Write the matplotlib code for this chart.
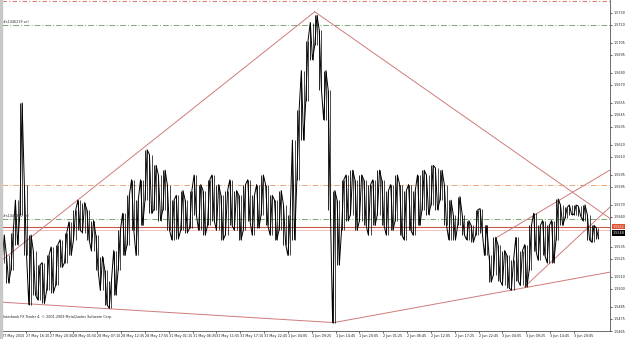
import matplotlib
matplotlib.use('Agg')
import matplotlib.pyplot as plt
import matplotlib.transforms as mtransforms
import numpy as np

# price samples, one every 12 five-minute bars, in points (price * 10000)
high_pts = [15545, 15528, 15547, 15574, 15655, 15587, 15545, 15532, 15520, 15522,
            15528, 15535, 15537, 15541, 15547, 15556, 15566, 15574, 15572, 15566,
            15557, 15545, 15527, 15516, 15507, 15532, 15549, 15563, 15578, 15591,
            15574, 15591, 15616, 15612, 15603, 15595, 15599, 15587, 15574, 15578,
            15582, 15574, 15582, 15595, 15587, 15582, 15591, 15595, 15587, 15578,
            15582, 15591, 15582, 15578, 15587, 15591, 15578, 15587, 15595, 15587,
            15578, 15574, 15582, 15570, 15562, 15624, 15649, 15682, 15707, 15722,
            15728, 15716, 15682, 15666, 15582, 15574, 15591, 15595, 15599, 15591,
            15595, 15591, 15587, 15591, 15599, 15591, 15582, 15587, 15595, 15587,
            15582, 15587, 15582, 15595, 15599, 15595, 15603, 15601, 15599, 15587,
            15574, 15562, 15577, 15562, 15557, 15553, 15566, 15567, 15553, 15528,
            15543, 15537, 15532, 15528, 15524, 15543, 15532, 15537, 15553, 15563,
            15553, 15557, 15553, 15557, 15575, 15570, 15568, 15570, 15570, 15569,
            15570, 15562, 15553, 15551]
low_pts = [15522, 15505, 15516, 15537, 15562, 15528, 15487, 15495, 15491, 15488,
           15499, 15497, 15503, 15518, 15522, 15528, 15541, 15549, 15547, 15541,
           15532, 15516, 15499, 15487, 15484, 15495, 15516, 15528, 15537, 15549,
           15528, 15553, 15574, 15563, 15566, 15557, 15566, 15549, 15541, 15542,
           15549, 15547, 15551, 15562, 15549, 15545, 15553, 15557, 15549, 15541,
           15545, 15553, 15549, 15541, 15549, 15557, 15545, 15551, 15562, 15553,
           15545, 15541, 15549, 15537, 15528, 15541, 15591, 15624, 15657, 15691,
           15703, 15666, 15641, 15566, 15472, 15520, 15549, 15557, 15562, 15549,
           15557, 15553, 15545, 15553, 15562, 15553, 15545, 15549, 15557, 15545,
           15541, 15549, 15545, 15553, 15566, 15562, 15570, 15566, 15574, 15553,
           15541, 15541, 15553, 15545, 15541, 15539, 15545, 15547, 15528, 15506,
           15512, 15507, 15503, 15501, 15499, 15507, 15503, 15502, 15516, 15532,
           15524, 15528, 15522, 15522, 15541, 15553, 15559, 15562, 15562, 15561,
           15557, 15541, 15539, 15542]
bar_step = 12

# trendlines: (bar, points) pairs
trend_lines = [
    ([0, 840], [15524, 15731]),
    ([840, 1632], [15731, 15559]),
    ([0, 891], [15489, 15472]),
    ([891, 1632], [15472, 15514]),
    ([1329, 1632], [15543, 15599]),
    ([1404, 1632], [15502, 15568]),
]

# horizontal levels
top_level = 15740
order_levels = [15720, 15558]
order_names = ['#s1446219 sel', '#s1446370 sel']
tp_level = 15587
ask_level = 15552
bid_level = 15549

price_ticks = [15730, 15720, 15705, 15695, 15680, 15670, 15655, 15645, 15635, 15620,
               15610, 15595, 15585, 15570, 15560, 15535, 15525, 15510, 15500, 15485,
               15475, 15465]

time_labels = ['27 May 2010', '27 May 16:10', '27 May 20:30', '28 May 01:50', '28 May 07:10',
               '28 May 12:35', '28 May 17:55', '31 May 01:15', '31 May 06:35', '31 May 11:55',
               '31 May 17:15', '31 May 22:45', '1 Jun 04:05', '1 Jun 09:25', '1 Jun 14:45',
               '1 Jun 20:05', '2 Jun 01:25', '2 Jun 06:45', '2 Jun 12:05', '2 Jun 17:25',
               '2 Jun 22:45', '3 Jun 04:05', '3 Jun 09:25', '3 Jun 14:45', '3 Jun 20:05']
bars_per_label = 64

high = np.array(high_pts) / 10000.0
low = np.array(low_pts) / 10000.0
t = np.arange(len(high)) * bar_step

fig = plt.figure(figsize=(6.25, 3.39), dpi=100)
ax = fig.add_axes([2 / 625, 8 / 339, 608 / 625, 331 / 339])
ax.set_xlim(0, 1633)
ax.set_ylim(1.54650, 1.57408)

# level lines
ax.axhline(top_level / 10000.0, color='#d88070', lw=0.8, ls=(0, (4, 2, 1, 2)))
for lvl, name in zip(order_levels, order_names):
    ax.axhline(lvl / 10000.0, color='#78a870', lw=0.7, ls=(0, (6, 2, 1, 2)))
    ax.text(3, lvl / 10000.0 + 0.00008, name, fontsize=2.4, color='#333333', va='bottom')
ax.axhline(tp_level / 10000.0, color='#e8a878', lw=0.7, ls=(0, (6, 2, 1, 2)))
ax.axhline(ask_level / 10000.0, color='#c8584a', lw=0.8)
ax.axhline(bid_level / 10000.0, color='#ecb8b0', lw=0.6)

for xs, ys in trend_lines:
    ax.plot(xs, np.array(ys) / 10000.0, color='#cf7b7b', lw=0.7)

# bars
ax.vlines(t, low, high, color='black', lw=0.6)
ax.vlines(t + bar_step / 2, low, high, color='black', lw=0.5)
zx, zy = [], []
for i in range(len(t)):
    zx += [t[i], t[i] + bar_step / 2]
    zy += [low[i], high[i]] if i % 2 == 0 else [high[i], low[i]]
ax.plot(zx, zy, color='black', lw=0.7)

ax.text(3, 1.54755, 'Interbank FX Trader 4, \u00a9 2001-2009 MetaQuotes Software Corp.',
        fontsize=2.4, color='#222222')

# axes styling
for s in ['top', 'left']:
    ax.spines[s].set_visible(False)
ax.spines['right'].set_color('#555555')
ax.spines['bottom'].set_color('#555555')
ax.spines['right'].set_linewidth(0.6)
ax.spines['bottom'].set_linewidth(0.6)
fig.patches.append(plt.Rectangle((0, 0), 2 / 625, 1, transform=fig.transFigure,
                                 color='#c8c8c8', zorder=0))

ax.yaxis.tick_right()
ax.set_yticks([p / 10000.0 for p in price_ticks])
ax.set_yticklabels(['%.4f' % (p / 10000.0) for p in price_ticks])
ax.tick_params(axis='y', length=1.5, width=0.5, pad=1, labelsize=2.4, colors='#222222')

ax.set_xticks(np.arange(len(time_labels)) * bars_per_label)
ax.set_xticklabels(time_labels, ha='left')
ax.tick_params(axis='x', length=1.5, width=0.5, pad=0.5, labelsize=2.4, colors='#222222')

# price tags on the right
trans = mtransforms.blended_transform_factory(ax.transAxes, ax.transData)
ax.text(1.004, ask_level / 10000.0, '%.4f' % (ask_level / 10000.0), transform=trans,
        fontsize=2.4, color='white', va='center', ha='left',
        bbox=dict(boxstyle='square,pad=0.25', fc='#e05030', ec='none'))
ax.text(1.004, bid_level / 10000.0 - 0.00022, '%.4f' % (bid_level / 10000.0 - 0.0001),
        transform=trans, fontsize=2.4, color='white', va='center', ha='left',
        bbox=dict(boxstyle='square,pad=0.25', fc='black', ec='none'))

fig.savefig('out.png', dpi=100)
